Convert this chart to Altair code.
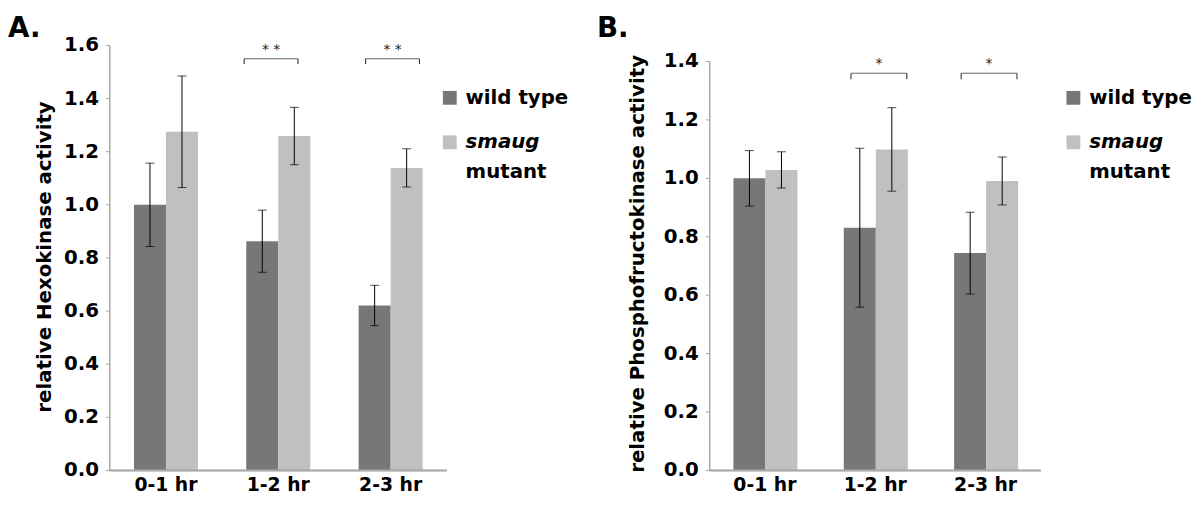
import altair as alt
import pandas as pd

# ---------------- data ----------------
times = ["0-1 hr", "1-2 hr", "2-3 hr"]
groups = ["wild type", "smaug mutant"]

hk_wt = [1.00, 0.863, 0.621]
hk_wt_err = [0.157, 0.117, 0.076]
hk_mut = [1.275, 1.259, 1.139]
hk_mut_err = [0.210, 0.108, 0.072]

pfk_wt = [1.00, 0.831, 0.744]
pfk_wt_err = [0.095, 0.272, 0.140]
pfk_mut = [1.029, 1.099, 0.991]
pfk_mut_err = [0.062, 0.143, 0.082]

hk_ticks = [0.0, 0.2, 0.4, 0.6, 0.8, 1.0, 1.2, 1.4, 1.6]
pfk_ticks = [0.0, 0.2, 0.4, 0.6, 0.8, 1.0, 1.2, 1.4]

hk_sig_times = ["1-2 hr", "2-3 hr"]
hk_sig_marks = ["* *", "* *"]
pfk_sig_times = ["1-2 hr", "2-3 hr"]
pfk_sig_marks = ["*", "*"]

FONT = "DejaVu Sans"
DARK = "#777777"
LIGHT = "#c0c0c0"
AXISC = "#a8a8a8"
H = 430


def panel(letter, wt, wt_err, mut, mut_err, ymax, ticks, ytitle, sig_times,
          sig_marks, sig_shift, brk_level, brk_end, star_level, brk_w,
          width, title_x, title_y, letter_x, leg_x):
    rows = []
    for i, t in enumerate(times):
        rows.append(dict(time=t, group=groups[0], value=wt[i],
                         lo=wt[i] - wt_err[i], hi=wt[i] + wt_err[i]))
        rows.append(dict(time=t, group=groups[1], value=mut[i],
                         lo=mut[i] - mut_err[i], hi=mut[i] + mut_err[i]))
    df = pd.DataFrame(rows)

    xscale = alt.Scale(domain=times, paddingInner=0.43, paddingOuter=0.215)
    yscale = alt.Scale(domain=[0, ymax], nice=False, zero=True)

    def X(f="time:N"):
        return alt.X(f, scale=xscale, axis=None)

    def Y(f):
        return alt.Y(f, scale=yscale, axis=None)

    xoff = alt.XOffset("group:N", sort=groups,
                       scale=alt.Scale(domain=groups, paddingInner=0,
                                       paddingOuter=0))

    base = alt.Chart(df).encode(x=X(), xOffset=xoff)
    bars = base.mark_bar().encode(
        y=Y("value:Q"),
        color=alt.Color("group:N", scale=alt.Scale(domain=groups,
                                                    range=[DARK, LIGHT]),
                        legend=None),
    )
    err = base.mark_rule(color="black", strokeWidth=1).encode(
        y=Y("lo:Q"), y2="hi:Q")
    cap_hi = base.mark_tick(color="black", size=9, thickness=1,
                            orient="horizontal").encode(y=Y("hi:Q"))
    cap_lo = base.mark_tick(color="black", size=9, thickness=1,
                            orient="horizontal").encode(y=Y("lo:Q"))

    layers = [bars, err, cap_hi, cap_lo]

    # ---- axes drawn from the scales ----
    tdf = pd.DataFrame({"v": ticks, "top": [ticks[-1]] * len(ticks)})
    tc = alt.Chart(tdf)
    layers.append(tc.mark_rule(color=AXISC, strokeWidth=1.5).encode(
        x=alt.value(0), y=alt.Y("min(v):Q", scale=yscale, axis=None),
        y2="max(top):Q"))
    layers.append(tc.mark_rule(color=AXISC, strokeWidth=1).encode(
        x=alt.value(-4), x2=alt.value(0), y=Y("v:Q")))
    layers.append(tc.mark_text(font=FONT, fontSize=20, fontWeight="bold",
                               color="black", align="right",
                               baseline="middle").encode(
        x=alt.value(-11), y=Y("v:Q"), text=alt.Text("v:Q", format=".1f")))
    xdf = pd.DataFrame({"time": times})
    xc = alt.Chart(xdf)
    layers.append(xc.mark_rule(color=AXISC, strokeWidth=1.5).encode(
        x=alt.value(0), x2=alt.value(width), y=alt.value(H)))
    layers.append(xc.mark_text(font=FONT, fontSize=19, fontWeight="bold",
                               color="black", align="center",
                               baseline="top").encode(
        x=X(), y=alt.value(H + 6), text="time:N"))
    layers.append(alt.Chart(pd.DataFrame({"t": [ytitle]})).mark_text(
        font=FONT, fontSize=20, fontWeight="bold", color="black",
        align="center", baseline="middle", angle=270).encode(
        x=alt.value(title_x), y=alt.value(title_y), text="t:N"))

    # ---- significance brackets ----
    for t, m, s in zip(sig_times, sig_marks, sig_shift):
        bdf = pd.DataFrame({"time": [t], "y": [brk_level], "y2": [brk_end],
                            "ys": [star_level], "m": [m]})
        bc = alt.Chart(bdf)
        layers.append(bc.mark_tick(orient="horizontal", size=brk_w, thickness=1,
                                   color="#222222", xOffset=s).encode(
            x=X(), y=Y("y:Q")))
        for side in (-1, 1):
            layers.append(bc.mark_rule(color="#222222", strokeWidth=1,
                                       xOffset=s + side * brk_w / 2).encode(
                x=X(), y=Y("y:Q"), y2="y2:Q"))
        layers.append(bc.mark_text(font=FONT, fontSize=14, color="#222222",
                                   baseline="alphabetic", align="center",
                                   xOffset=s).encode(
            x=X(), y=Y("ys:Q"), text="m:N"))

    # ---- panel letter (with a transparent spacer above it) ----
    layers.append(alt.Chart(pd.DataFrame({"t": [letter]})).mark_rule(
        strokeOpacity=0, strokeWidth=1).encode(
        x=alt.value(letter_x), x2=alt.value(letter_x + 2), y=alt.value(-35)))
    layers.append(alt.Chart(pd.DataFrame({"t": [letter]})).mark_text(
        font=FONT, fontSize=28, fontWeight="bold", align="left",
        baseline="top", color="black").encode(
        x=alt.value(letter_x), y=alt.value(-31), text="t:N"))

    # ---- legend ----
    for txt, c, yy in [("wild type", DARK, 53), ("smaug", LIGHT, 98)]:
        layers.append(alt.Chart(pd.DataFrame({"t": [txt]})).mark_square(
            size=196, opacity=1, color=c).encode(
            x=alt.value(leg_x), y=alt.value(yy)))
    for txt, st, yy in [("wild type", "normal", 53), ("smaug", "italic", 98),
                        ("mutant", "normal", 128)]:
        layers.append(alt.Chart(pd.DataFrame({"t": [txt]})).mark_text(
            font=FONT, fontSize=20, fontWeight="bold", fontStyle=st,
            align="left", baseline="middle", color="black").encode(
            x=alt.value(leg_x + 16), y=alt.value(yy), text="t:N"))

    return alt.layer(*layers).properties(width=width, height=H)


pA = panel("A.", hk_wt, hk_wt_err, hk_mut, hk_mut_err, 1.6, hk_ticks,
           "relative Hexokinase activity", hk_sig_times, hk_sig_marks,
           [-7.3, 1.9], 1.550, 1.530, 1.566, 54.5, 341, -65, 214, -103, 344)
pB = panel("B.", pfk_wt, pfk_wt_err, pfk_mut, pfk_mut_err, 1.455, pfk_ticks,
           "relative Phosphofructokinase activity", pfk_sig_times,
           pfk_sig_marks, [3.7, 3.5], 1.3595, 1.339, 1.378, 56.5, 335, -72,
           221, -114, 368)

chart = alt.hconcat(pA, pB, spacing=29).properties(padding=0).configure_view(
    strokeWidth=0)

chart.save("out.html", embed_options={"renderer": "svg", "actions": False})
